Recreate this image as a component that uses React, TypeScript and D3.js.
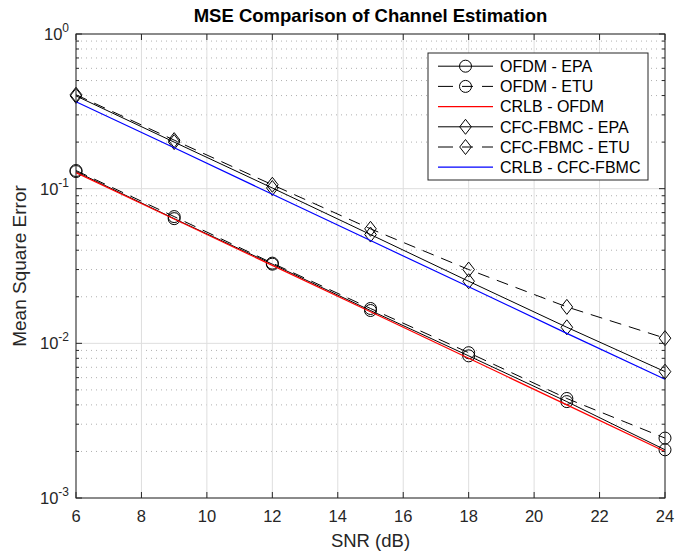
import React from "react";
import * as d3 from "d3";

const snr = [6, 9, 12, 15, 18, 21, 24];
const ofdmEPA = [0.129, 0.064, 0.0325, 0.0163, 0.0083, 0.0042, 0.00205];
const ofdmETU = [0.131, 0.066, 0.033, 0.0168, 0.0087, 0.0044, 0.00244];
const crlbOFDM = [0.127, 0.0636, 0.0319, 0.016, 0.008, 0.004, 0.002];
const fbmcEPA = [0.398, 0.2, 0.101, 0.0505, 0.0252, 0.0127, 0.00656];
const fbmcETU = [0.405, 0.206, 0.106, 0.055, 0.03, 0.0172, 0.0108];
const crlbFBMC = [0.365, 0.184, 0.092, 0.0462, 0.0232, 0.0116, 0.00586];

const xTicks = [6, 8, 10, 12, 14, 16, 18, 20, 22, 24];
const yDecades = [0, -1, -2, -3];

const seriesNames = [
  "OFDM - EPA",
  "OFDM - ETU",
  "CRLB - OFDM",
  "CFC-FBMC - EPA",
  "CFC-FBMC - ETU",
  "CRLB - CFC-FBMC",
];

type S = { name: string; values: number[]; color: string; dash: boolean; marker: "o" | "d" | null; width: number };

const series: S[] = [
  { name: seriesNames[0], values: ofdmEPA, color: "#000", dash: false, marker: "o", width: 1 },
  { name: seriesNames[1], values: ofdmETU, color: "#000", dash: true, marker: "o", width: 1 },
  { name: seriesNames[2], values: crlbOFDM, color: "#ff0000", dash: false, marker: null, width: 1.2 },
  { name: seriesNames[3], values: fbmcEPA, color: "#000", dash: false, marker: "d", width: 1 },
  { name: seriesNames[4], values: fbmcETU, color: "#000", dash: true, marker: "d", width: 1 },
  { name: seriesNames[5], values: crlbFBMC, color: "#0000ff", dash: false, marker: null, width: 1.2 },
];

const W = 677, H = 552;
const L = 76, R = 665, T = 34, B = 498;
const FONT = "'Liberation Sans', Arial, Helvetica, sans-serif";
const AX = "#262626";

function Marker({ type, x, y }: { type: "o" | "d" | null; x: number; y: number }) {
  if (type === "o") return <circle cx={x} cy={y} r={6} fill="none" stroke="#000" strokeWidth={1} />;
  if (type === "d") {
    const h = 7.5, w = 5.8;
    return <path d={`M${x},${y - h}L${x + w},${y}L${x},${y + h}L${x - w},${y}Z`} fill="none" stroke="#000" strokeWidth={1} />;
  }
  return null;
}

export default function App() {
  const x = d3.scaleLinear().domain([6, 24]).range([L, R]);
  const y = d3.scaleLog().domain([1e-3, 1]).range([B, T]);

  const minors: number[] = [];
  for (let e = -3; e < 0; e++) for (let m = 2; m <= 9; m++) minors.push(m * Math.pow(10, e));

  const line = d3.line<number>().x((_, i) => x(snr[i])).y((v) => y(v));

  const lgX = 428, lgY = 53, lgW = 220, lgH = 127;
  const rowH = 20.2;

  return (
    <svg width={W} height={H} style={{ position: "absolute", left: 0, top: 0, background: "#fff" }} fontFamily={FONT}>
      <rect x={0} y={0} width={W} height={H} fill="#fff" />
      {minors.map((v, i) => (
        <line key={"mg" + i} x1={L} x2={R} y1={y(v)} y2={y(v)} stroke="#b0b0b0" strokeWidth={1} strokeDasharray="1,4" />
      ))}
      {xTicks.map((t) => (
        <line key={"xg" + t} x1={x(t)} x2={x(t)} y1={T} y2={B} stroke="#dedede" strokeWidth={1} />
      ))}
      {yDecades.map((e) => (
        <line key={"yg" + e} x1={L} x2={R} y1={y(Math.pow(10, e))} y2={y(Math.pow(10, e))} stroke="#dedede" strokeWidth={1} />
      ))}
      {series.map((s) => (
        <g key={s.name}>
          <path d={line(s.values) || ""} fill="none" stroke={s.color} strokeWidth={s.width} strokeDasharray={s.dash ? "12,8" : undefined} />
          {s.marker && s.values.map((v, i) => <Marker key={i} type={s.marker} x={x(snr[i])} y={y(v)} />)}
        </g>
      ))}
      <rect x={L} y={T} width={R - L} height={B - T} fill="none" stroke={AX} strokeWidth={1} />
      {xTicks.map((t) => (
        <g key={"xt" + t}>
          <line x1={x(t)} x2={x(t)} y1={B} y2={B - 6} stroke={AX} />
          <line x1={x(t)} x2={x(t)} y1={T} y2={T + 6} stroke={AX} />
          <text x={x(t)} y={B + 24} textAnchor="middle" fontSize={16.5} fill={AX}>{t}</text>
        </g>
      ))}
      {yDecades.map((e) => {
        const yy = y(Math.pow(10, e));
        return (
          <g key={"yt" + e}>
            <line x1={L} x2={L + 6} y1={yy} y2={yy} stroke={AX} />
            <line x1={R} x2={R - 6} y1={yy} y2={yy} stroke={AX} />
            <text x={L - 7} y={yy + 6} textAnchor="end" fontSize={16.5} fill={AX}>
              10<tspan dy={-8} fontSize={12}>{e}</tspan>
            </text>
          </g>
        );
      })}
      {minors.map((v, i) => (
        <g key={"mt" + i}>
          <line x1={L} x2={L + 3} y1={y(v)} y2={y(v)} stroke={AX} />
          <line x1={R} x2={R - 3} y1={y(v)} y2={y(v)} stroke={AX} />
        </g>
      ))}
      <text x={(L + R) / 2} y={22} textAnchor="middle" fontSize={18.5} fontWeight="bold" fill="#000">MSE Comparison of Channel Estimation</text>
      <text x={(L + R) / 2} y={547} textAnchor="middle" fontSize={18.5} fill={AX}>SNR (dB)</text>
      <text transform={`translate(26,${(T + B) / 2}) rotate(-90)`} textAnchor="middle" fontSize={19} fill={AX}>Mean Square Error</text>
      <rect x={lgX} y={lgY} width={lgW} height={lgH} fill="#fff" stroke={AX} strokeWidth={1} />
      {series.map((s, i) => {
        const cy = lgY + 13.2 + i * rowH;
        const x1 = lgX + 10, x2 = lgX + 65;
        return (
          <g key={"lg" + s.name}>
            <line x1={x1} x2={x2} y1={cy} y2={cy} stroke={s.color} strokeWidth={s.width} strokeDasharray={s.dash ? "15,9,11,9,11" : undefined} />
            {s.marker && <Marker type={s.marker} x={(x1 + x2) / 2} y={cy} />}
            <text x={lgX + 72} y={cy + 5.8} fontSize={16} fill="#000">{s.name}</text>
          </g>
        );
      })}
    </svg>
  );
}
